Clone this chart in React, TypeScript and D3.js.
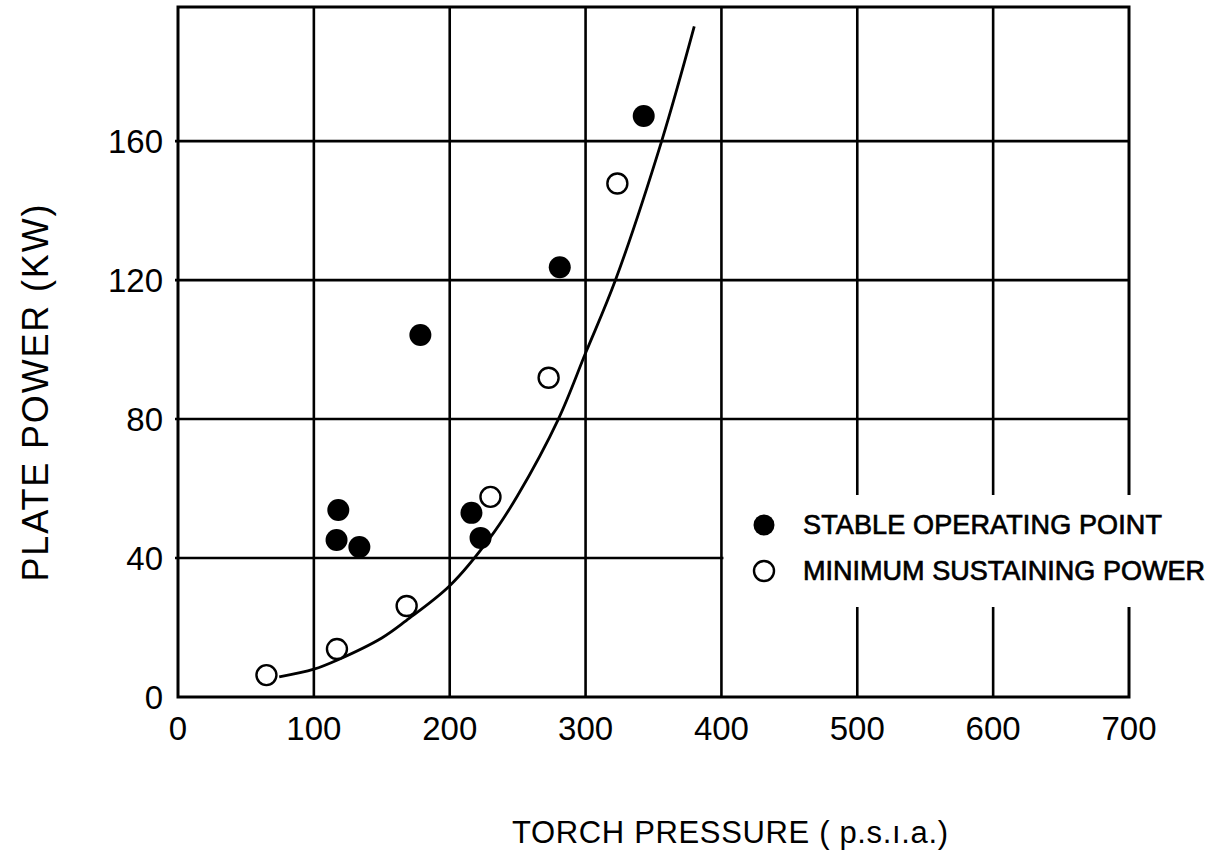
import React from 'react';
import * as d3 from 'd3';

// torch pressure (p.s.i.a.) vs plate power (KW)
const xTicks = [0, 100, 200, 300, 400, 500, 600, 700];
const yTicks = [0, 40, 80, 120, 160];

const stableX = [118, 116.7, 133.5, 178.4, 216, 222.7, 281, 342.8];
const stableY = [53.8, 45.2, 43.2, 104.2, 53, 45.8, 123.7, 167.2];

const minX = [65.1, 117, 168.3, 230, 272.8, 323.4];
const minY = [6.3, 13.8, 26.2, 57.6, 91.9, 147.8];

const curveX = [74.5, 100, 117, 150, 168, 200, 230, 250, 280, 300, 322, 356, 380];
const curveY = [5.8, 8, 10.6, 17, 22, 32, 46, 58, 80, 99, 120, 160, 193];

const legendLabels = ['STABLE OPERATING POINT', 'MINIMUM SUSTAINING POWER'];

const W = 1211;
const H = 855;
const font = '"Liberation Sans", Arial, sans-serif';

export default function App() {
  const x = d3.scaleLinear().domain([0, 700]).range([178, 1129]);
  const y = d3.scaleLinear().domain([0, 198.6]).range([697, 7]);

  const line = d3
    .line<number>()
    .x((d) => x(d))
    .y((_, i) => y(curveY[i]))
    .curve(d3.curveCatmullRom);

  const top = y.range()[1];
  const bottom = y.range()[0];
  const left = x.range()[0];
  const right = x.range()[1];

  return (
    <svg
      width={W}
      height={H}
      style={{ position: 'absolute', left: 0, top: 0, background: '#fff' }}
      fontFamily={font}
    >
      <rect width={W} height={H} fill="#fff" />
      {/* grid */}
      {xTicks.slice(1, -1).map((t) => (
        <line key={'gx' + t} x1={x(t)} x2={x(t)} y1={top} y2={bottom} stroke="#000" strokeWidth={2.6} />
      ))}
      {yTicks.slice(1).map((t) => (
        <line key={'gy' + t} x1={left - 3} x2={right} y1={y(t)} y2={y(t)} stroke="#000" strokeWidth={2.6} />
      ))}
      <rect x={left} y={top} width={right - left} height={bottom - top} fill="none" stroke="#000" strokeWidth={3} />

      {/* legend gap */}
      <rect x={x(400) + 2} y={495} width={W - x(400)} height={112} fill="#fff" />

      {/* fitted curve */}
      <path d={line(curveX) || ''} fill="none" stroke="#000" strokeWidth={2.8} />

      {stableX.map((v, i) => (
        <circle key={'s' + i} cx={x(v)} cy={y(stableY[i])} r={11} fill="#000" />
      ))}
      {minX.map((v, i) => (
        <circle key={'m' + i} cx={x(v)} cy={y(minY[i])} r={10} fill="#fff" stroke="#000" strokeWidth={2.4} />
      ))}

      {/* tick labels */}
      {xTicks.map((t) => (
        <text key={'xl' + t} x={x(t)} y={740} textAnchor="middle" fontSize={33}>
          {t}
        </text>
      ))}
      {yTicks.map((t) => (
        <text key={'yl' + t} x={163} y={y(t) + 12} textAnchor="end" fontSize={33}>
          {t}
        </text>
      ))}

      {/* axis titles */}
      <text
        transform="translate(48,393) rotate(-90)"
        textAnchor="middle"
        fontSize={36}
        textLength={377}
        lengthAdjust="spacing"
      >
        PLATE POWER (KW)
      </text>
      <text x={730} y={843} textAnchor="middle" fontSize={31} textLength={436} lengthAdjust="spacing">
        TORCH  PRESSURE ( p.s.ı.a.)
      </text>

      {/* legend */}
      <circle cx={764} cy={525} r={10.5} fill="#000" />
      <circle cx={764} cy={571} r={10} fill="#fff" stroke="#000" strokeWidth={2.4} />
      <g stroke="#000" strokeWidth={0.7}>
        <text x={803} y={534} fontSize={27} textLength={359} lengthAdjust="spacing">
          {legendLabels[0]}
        </text>
        <text x={803} y={580} fontSize={27} textLength={402} lengthAdjust="spacing">
          {legendLabels[1]}
        </text>
      </g>
    </svg>
  );
}
